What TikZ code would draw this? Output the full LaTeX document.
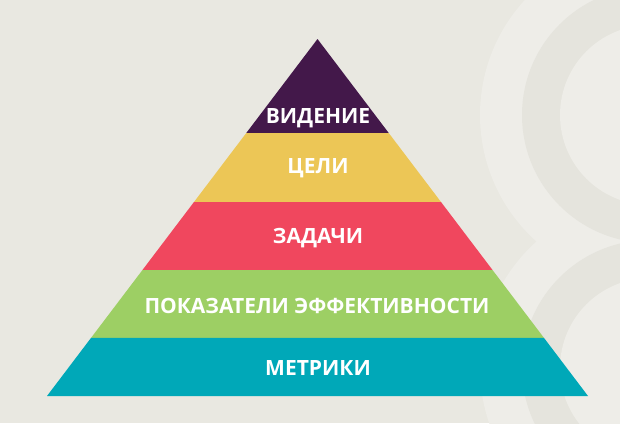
\documentclass[tikz,border=0pt]{standalone}
\usepackage{fontspec}
\setmainfont{Open Sans}
\usetikzlibrary{calc}

\definecolor{paper}{HTML}{E9E8E1}
\definecolor{paperlight}{HTML}{EEEDE8}
\definecolor{paperdark}{HTML}{E5E4DD}
\definecolor{vision}{HTML}{43184A}
\definecolor{goals}{HTML}{ECC656}
\definecolor{tasks}{HTML}{F0475E}
\definecolor{kpi}{HTML}{9DCF64}
\definecolor{metrics}{HTML}{00A8B8}

\begin{document}
\begin{tikzpicture}[
                x=1pt, y=-1pt,
                layer/.style={anchor=base, inner sep=0pt, text=white,
                  font=\bfseries\fontsize{21}{25}\selectfont}
              ]
              \useasboundingbox (0,0) rectangle (620,423);
              \fill[paper] (0,0) rectangle (620,423);

              % faint pattern on the right
              \begin{scope}
                \clip (0,0) rectangle (620,423);
                \foreach \cy in {115,368} \fill[paperlight] (650,\cy) circle (170pt);
                \foreach \cy in {115,368} \fill[paperdark] (650,\cy) circle (128pt);
                \foreach \cy in {115,368} \fill[paperlight] (650,\cy) circle (90pt);
              \end{scope}

              \coordinate (apex) at (317.5,39);
              \coordinate (bl) at (47,396);
              \coordinate (br) at (588,396);

              % layers
              \foreach \ta/\tb/\col in {0/0.2633/vision, 0.2633/0.4566/goals,
                  0.4566/0.6471/tasks, 0.6471/0.8375/kpi, 0.8375/1/metrics}
                \fill[\col] ($(apex)!\ta!(bl)$) -- ($(apex)!\ta!(br)$)
                  -- ($(apex)!\tb!(br)$) -- ($(apex)!\tb!(bl)$) -- cycle;

              \node (lvision) [layer] at (318,123.5) {ВИДЕНИЕ};
              \node (lgoals) [layer] at (318,173.5) {ЦЕЛИ};
              \node (ltasks) [layer] at (318,243.5) {ЗАДАЧИ};
              \node (lkpi) [layer] at (317,313.5) {ПОКАЗАТЕЛИ ЭФФЕКТИВНОСТИ};
              \node (lmetrics) [layer] at (318,375) {МЕТРИКИ};

            \end{tikzpicture}
\end{document}
